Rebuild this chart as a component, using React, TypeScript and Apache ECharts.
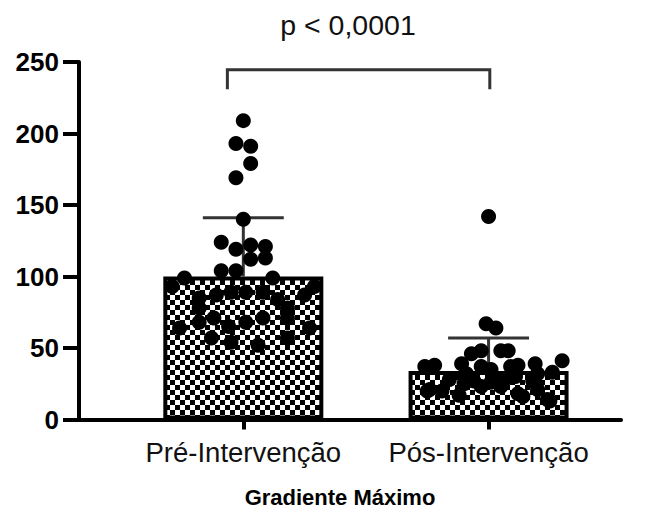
import React, { useEffect, useRef } from "react";
import * as echarts from "echarts";

// ---- data ----
const categories = ["Pré-Intervenção", "Pós-Intervenção"];
const categoryPositions = [1, 2];
const barMeans = [100, 34];
const barUpper = [141, 57];
const yTicks = [0, 50, 100, 150, 200, 250];
const pValueText = "p < 0,0001";
const xTitle = "Gradiente Máximo";

const preValues = [209, 193, 191, 179, 169, 140, 124, 119, 122, 121, 112, 113, 104, 104, 99, 99, 93, 93, 85, 87, 89, 89, 89, 87, 78, 68, 71, 65, 68, 71, 71, 57, 54, 52, 57, 78, 84, 64, 64];
const preOffsets = [0, -0.03, 0.03, 0.03, -0.03, 0, -0.09, -0.03, 0.03, 0.09, 0.03, 0.09, -0.09, -0.03, -0.24, 0.12, -0.29, 0.29, -0.18, -0.11, -0.05, 0.01, 0.08, 0.25, 0.18, -0.18, -0.12, -0.06, 0.01, 0.08, 0.18, -0.13, -0.05, 0.06, 0.18, -0.18, 0.14, 0.27, -0.26];

const posValues = [142, 67, 64, 46, 48, 48, 48, 39, 37, 38, 37, 37, 38, 39, 41, 33, 32, 35, 21, 20, 23, 23, 18, 21, 14, 27, 26, 27, 25, 27, 32, 16, 13, 20, 28, 30, 17];
const posOffsets = [0, -0.01, 0.03, -0.07, -0.03, 0.05, 0.08, -0.11, -0.26, -0.22, -0.03, 0.09, 0.12, 0.19, 0.3, 0.26, -0.09, 0.01, -0.24, -0.19, -0.03, 0.05, 0.12, 0.2, 0.24, -0.06, 0.01, 0.06, -0.1, 0.18, 0.2, 0.14, 0.25, -0.25, -0.16, 0.11, -0.12];

const bracketX = [0.935, 2.005];
const bracketY = [231, 244.5];

const FONT = "'Liberation Sans', Arial, sans-serif";

function makeChecker(): string {
  const c = document.createElement("canvas");
  c.width = 10;
  c.height = 10;
  const ctx = c.getContext("2d")!;
  ctx.fillStyle = "#ffffff";
  ctx.fillRect(0, 0, 10, 10);
  ctx.fillStyle = "#000000";
  ctx.fillRect(0, 0, 5, 5);
  ctx.fillRect(5, 5, 5, 5);
  return c.toDataURL();
}

export default function App() {
  const ref = useRef<HTMLDivElement>(null);
  useEffect(() => {
    if (!ref.current) return;
    const chart = echarts.init(ref.current, undefined, { renderer: "svg" });
    const checker = makeChecker();
    const capHalf = 0.165;

    const scatterData: number[][] = [];
    preValues.forEach((v, i) => scatterData.push([categoryPositions[0] + preOffsets[i], v]));
    posValues.forEach((v, i) => scatterData.push([categoryPositions[1] + posOffsets[i], v]));

    chart.setOption({
      animation: false,
      backgroundColor: "#ffffff",
      grid: { left: 79, right: 25, top: 62, bottom: 93.5, containLabel: false },
      xAxis: {
        type: "value",
        min: 0.33,
        max: 2.54,
        splitLine: { show: false },
        axisLine: { show: true, lineStyle: { color: "#000", width: 4 } },
        axisTick: { show: true, length: 10, lineStyle: { color: "#000", width: 4 }, customValues: categoryPositions },
        axisLabel: {
          show: true,
          customValues: categoryPositions,
          margin: 19,
          fontFamily: FONT,
          fontSize: 27.5,
          color: "#111",
          formatter: (v: number) => {
            const i = categoryPositions.indexOf(Math.round(v * 1000) / 1000);
            return i >= 0 ? categories[i] : "";
          },
        },
      },
      yAxis: {
        type: "value",
        min: yTicks[0],
        max: yTicks[yTicks.length - 1],
        interval: 50,
        splitLine: { show: false },
        axisLine: { show: true, lineStyle: { color: "#000", width: 4 } },
        axisTick: { show: true, length: 16, lineStyle: { color: "#000", width: 4 } },
        axisLabel: { margin: 20, fontFamily: FONT, fontSize: 26, fontWeight: "bold", color: "#000" },
      },
      graphic: [
        {
          type: "text",
          x: 348,
          y: 25,
          style: { text: pValueText, font: `28.5px ${FONT}`, fill: "#111", textAlign: "center", textVerticalAlign: "middle" },
        },
        {
          type: "text",
          x: 340,
          y: 497,
          style: { text: xTitle, font: `bold 22px ${FONT}`, fill: "#000", textAlign: "center", textVerticalAlign: "middle" },
        },
      ],
      series: [
        {
          type: "bar",
          data: categoryPositions.map((x, i) => [x, barMeans[i]]),
          barWidth: 160,
          itemStyle: {
            color: { image: checker, repeat: "repeat", imageWidth: 10, imageHeight: 10 } as any,
            borderColor: "#000",
            borderWidth: 4,
          },
          z: 1,
        },
        {
          type: "custom",
          data: categoryPositions.map((x, i) => [x, barMeans[i], barUpper[i]]),
          renderItem: (_p: any, api: any) => {
            const x = api.value(0);
            const m = api.value(1);
            const u = api.value(2);
            const top = api.coord([x, u]);
            const base = api.coord([x, m]);
            const l = api.coord([x - capHalf, u]);
            const r = api.coord([x + capHalf, u]);
            const st = { stroke: "#333", lineWidth: 3 };
            return {
              type: "group",
              children: [
                { type: "line", shape: { x1: base[0], y1: base[1], x2: top[0], y2: top[1] }, style: st },
                { type: "line", shape: { x1: l[0], y1: top[1], x2: r[0], y2: top[1] }, style: st },
              ],
            };
          },
          z: 2,
        },
        {
          type: "scatter",
          data: scatterData,
          symbol: "circle",
          symbolSize: 15,
          itemStyle: { color: "#000", opacity: 1 },
          z: 3,
        },
        {
          type: "line",
          data: [
            [bracketX[0], bracketY[0]],
            [bracketX[0], bracketY[1]],
            [bracketX[1], bracketY[1]],
            [bracketX[1], bracketY[0]],
          ],
          symbol: "none",
          clip: false,
          lineStyle: { color: "#333", width: 3, join: "miter" },
          z: 2,
        },
      ],
    });
    return () => chart.dispose();
  }, []);
  return <div ref={ref} style={{ width: 646, height: 513, margin: -8 }} />;
}
